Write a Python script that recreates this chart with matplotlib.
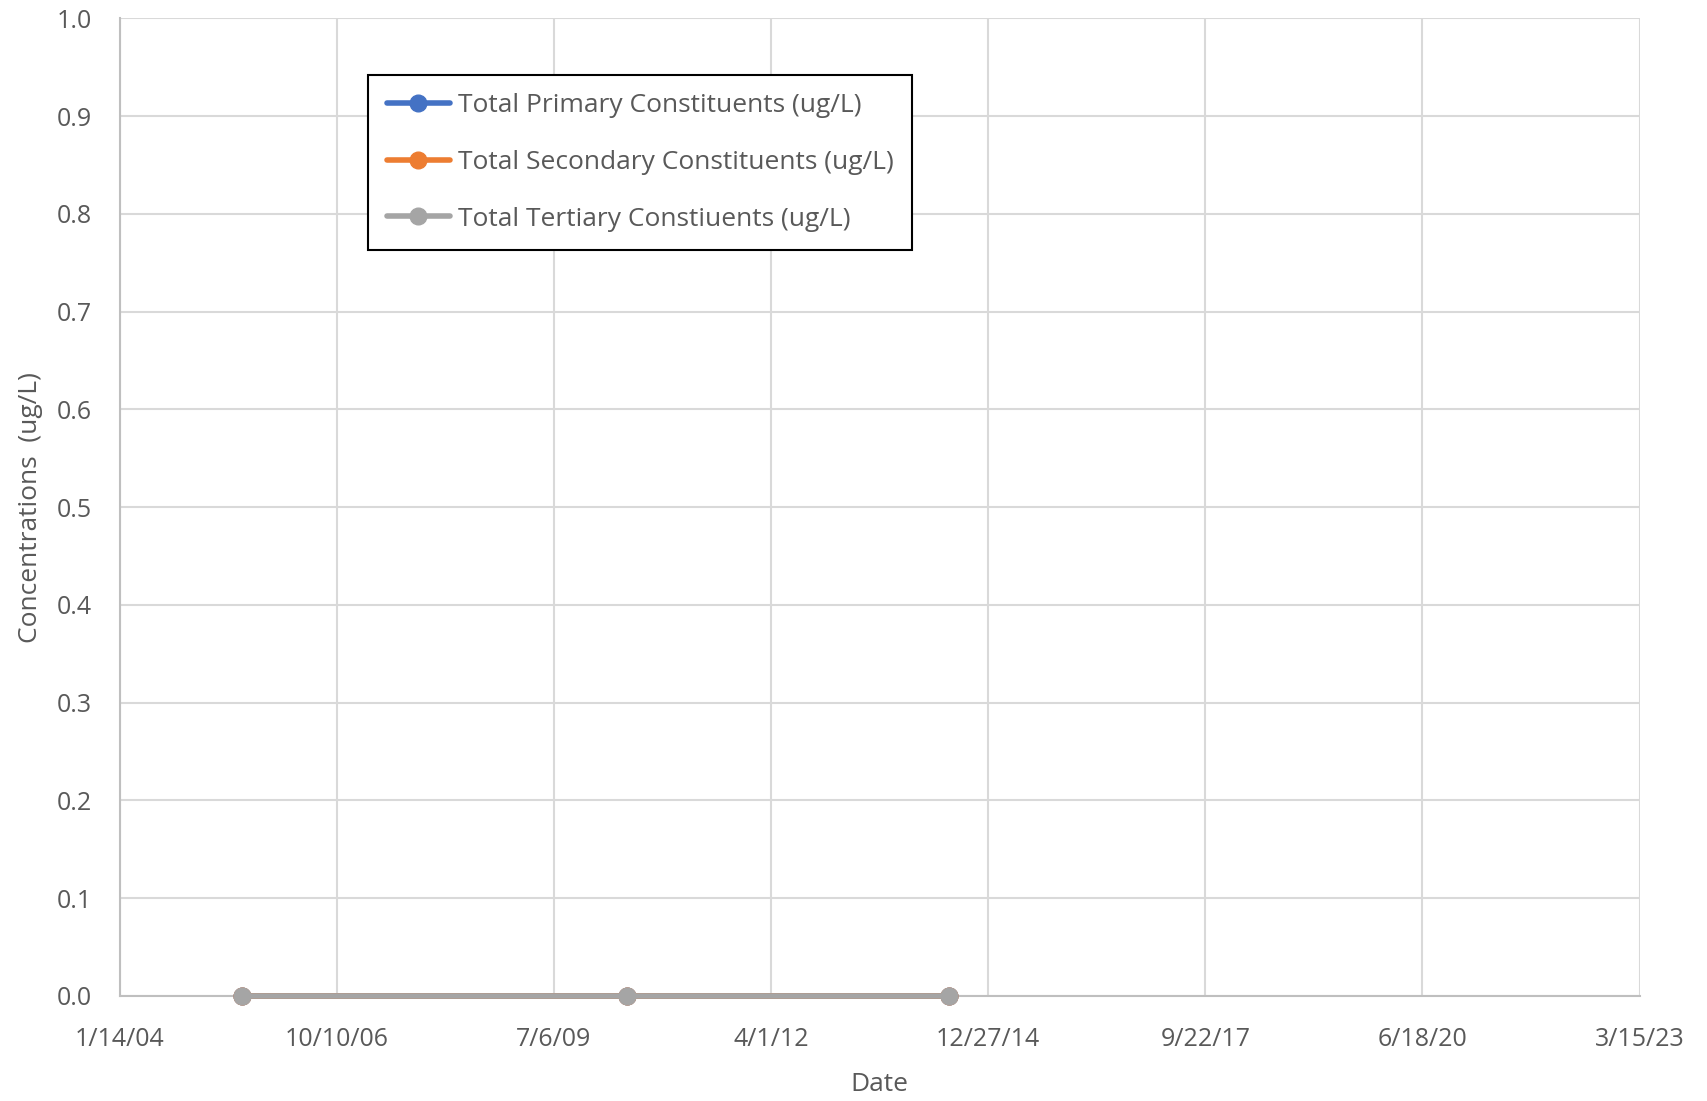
import matplotlib
matplotlib.use("Agg")
import matplotlib.pyplot as plt
import matplotlib.dates as mdates
from matplotlib.ticker import FuncFormatter, FixedLocator, MultipleLocator
import datetime as dt

# sample dates and totals (all non-detect -> 0)
dates = [dt.date(2005, 7, 30), dt.date(2010, 6, 8), dt.date(2014, 6, 28)]
primary = [0.0, 0.0, 0.0]
secondary = [0.0, 0.0, 0.0]
tertiary = [0.0, 0.0, 0.0]

labels = ["Total Primary Constituents (ug/L)",
          "Total Secondary Constituents (ug/L)",
          "Total Tertiary Constiuents (ug/L)"]
colors = ["#4472c4", "#ed7d31", "#a5a5a5"]

x_start = dt.date(2004, 1, 14)
x_end = dt.date(2023, 3, 15)
tick_step_days = 1000

plt.rcParams['font.family'] = ['Open Sans', 'DejaVu Sans']
text_color = "#595959"

fig = plt.figure(figsize=(17.07, 11.01), dpi=100)
ax = fig.add_axes([0.0701, 0.0954, 0.8904, 0.8878])

for vals, lab, col in zip([primary, secondary, tertiary], labels, colors):
    ax.plot(dates, vals, color=col, lw=4, marker='o', markersize=12, label=lab,
            solid_capstyle='round', zorder=3, clip_on=False)

x0 = mdates.date2num(x_start)
x1 = mdates.date2num(x_end)
ax.set_xlim(x0, x1)
ax.set_ylim(0, 1.0)
xticks = [x0 + k * tick_step_days for k in range(int((x1 - x0) // tick_step_days) + 1)]
ax.xaxis.set_major_locator(FixedLocator(xticks))
ax.xaxis.set_major_formatter(FuncFormatter(
    lambda v, p: (lambda d: f"{d.month}/{d.day}/{d:%y}")(mdates.num2date(v))))
ax.yaxis.set_major_locator(MultipleLocator(0.1))
ax.yaxis.set_major_formatter(FuncFormatter(lambda v, p: f"{v:.1f}"))

ax.grid(True, color="#d9d9d9", lw=1.5)
ax.set_axisbelow(True)
for s in ['top', 'right']:
    ax.spines[s].set_visible(False)
for s in ['left', 'bottom']:
    ax.spines[s].set_color("#bfbfbf")
    ax.spines[s].set_linewidth(1.5)
ax.tick_params(length=0, labelsize=18, colors=text_color)
ax.tick_params(axis='x', pad=22)
ax.tick_params(axis='y', pad=20)

ax.set_xlabel("Date", fontsize=19, color=text_color, labelpad=15)
ax.set_ylabel("Concentrations  (ug/L)", fontsize=19, color=text_color, labelpad=10)

leg = ax.legend(loc='upper left', bbox_to_anchor=(0.1635, 0.9425), fontsize=19,
                frameon=True, fancybox=False, edgecolor='black', framealpha=1,
                handlelength=2.4, handletextpad=0.3, labelspacing=1.2,
                borderpad=0.7, borderaxespad=0)
leg.get_frame().set_linewidth(1.5)
for t in leg.get_texts():
    t.set_color(text_color)

fig.savefig("out.png", dpi=100)
